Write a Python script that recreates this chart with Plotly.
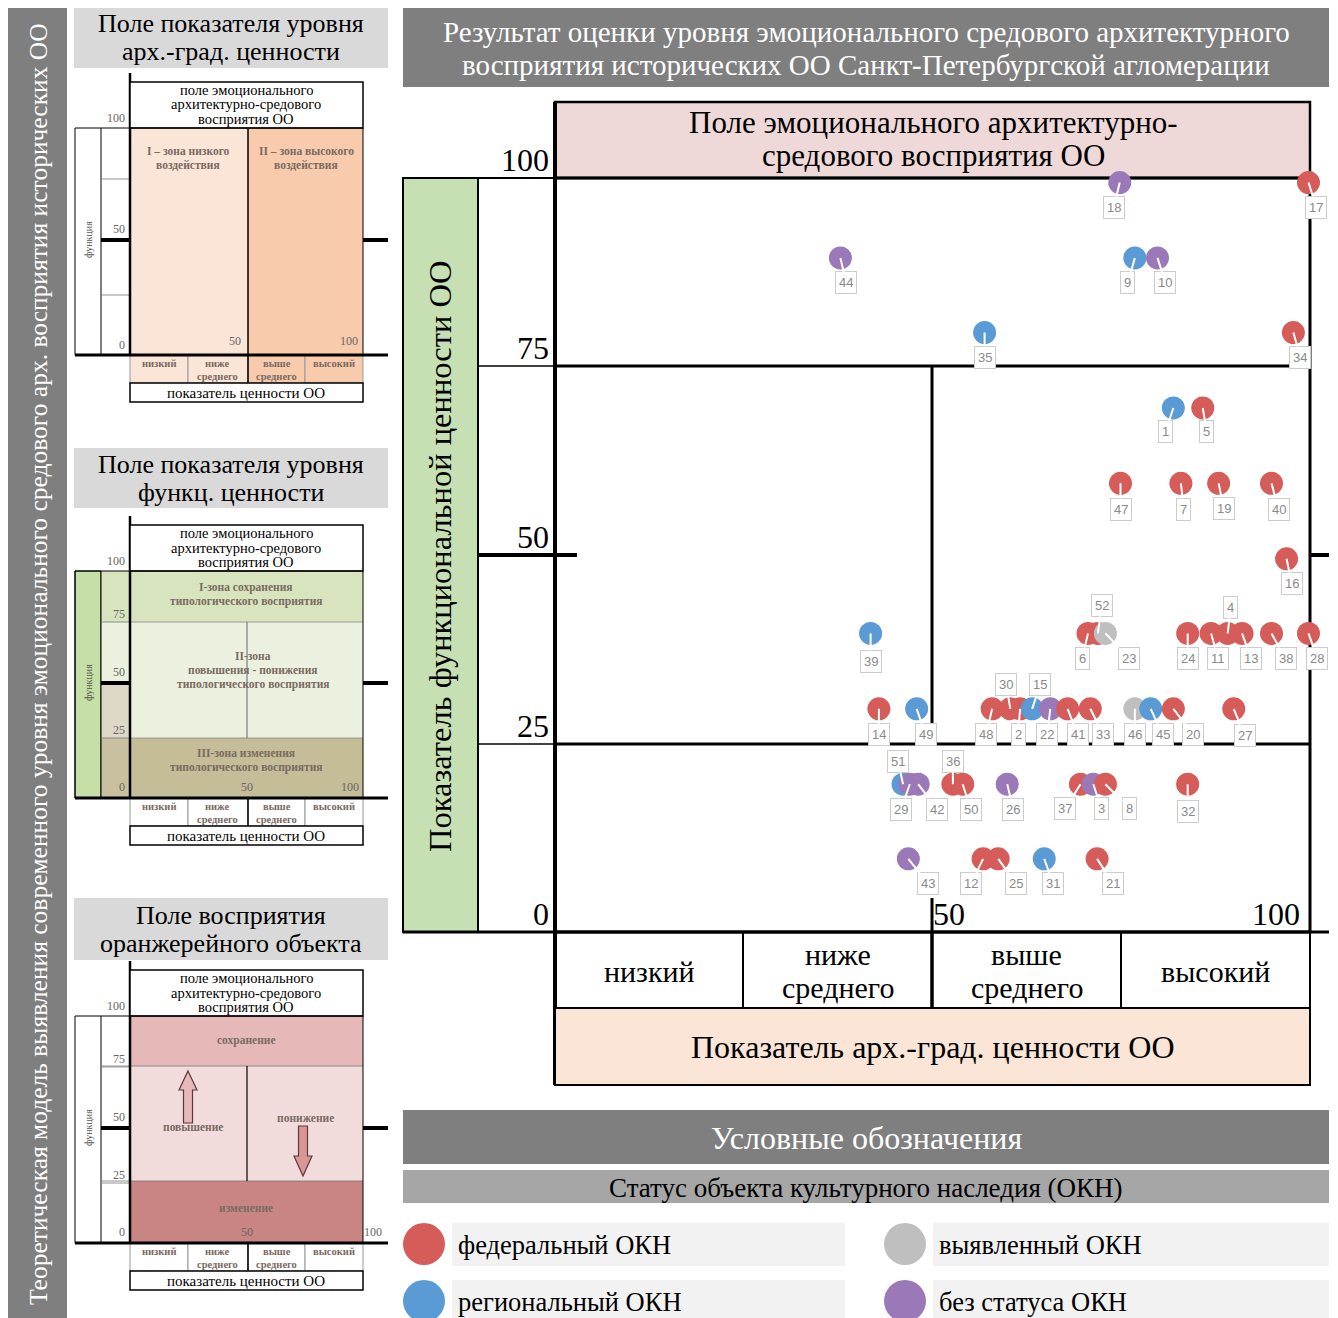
import plotly.graph_objects as go

W, H = 1338, 1318
SERIF = 'Liberation Serif'

# ---- data ----
obj_id = [17, 18, 44, 9, 10, 35, 34,
          1, 5, 47, 7, 19, 40, 16,
          6, 52, 23, 24, 11, 4, 13, 38, 28, 39,
          14, 49, 48, 30, 2, 15, 22, 41, 33, 46, 45, 20, 27,
          51, 29, 42, 36, 50, 26, 37, 3, 8, 32,
          43, 12, 25, 31, 21]
arch_value = [99.8, 74.8, 37.8, 76.8, 79.8, 56.9, 97.8,
              81.9, 85.8, 74.9, 82.9, 87.9, 94.9, 96.9,
              70.6, 71.9, 72.9, 83.8, 86.9, 89.1, 91.0, 94.9, 99.8, 41.8,
              42.9, 47.9, 57.9, 60.3, 61.6, 63.2, 65.6, 67.9, 70.9, 76.8, 78.9, 81.9, 89.9,
              46.1, 47.0, 48.1, 52.7, 54.0, 59.9, 69.6, 71.3, 72.9, 83.8,
              46.8, 56.7, 58.7, 64.8, 71.8]
func_value = [99.4, 99.4, 89.4, 89.4, 89.4, 79.5, 79.5,
              69.5, 69.5, 59.5, 59.5, 59.5, 59.5, 49.5,
              39.6, 39.6, 39.6, 39.6, 39.6, 39.6, 39.6, 39.6, 39.6, 39.6,
              29.6, 29.6, 29.6, 29.6, 29.6, 29.6, 29.6, 29.6, 29.6, 29.6, 29.6, 29.6, 29.6,
              19.6, 19.6, 19.6, 19.6, 19.6, 19.6, 19.6, 19.6, 19.6, 19.6,
              9.7, 9.7, 9.7, 9.7, 9.7]
status = ['фед', 'без', 'без', 'рег', 'без', 'рег', 'фед',
          'рег', 'фед', 'фед', 'фед', 'фед', 'фед', 'фед',
          'фед', 'фед', 'выяв', 'фед', 'фед', 'фед', 'фед', 'фед', 'фед', 'рег',
          'фед', 'рег', 'фед', 'фед', 'фед', 'рег', 'без', 'фед', 'фед', 'выяв', 'рег', 'фед', 'фед',
          'рег', 'без', 'без', 'фед', 'фед', 'без', 'фед', 'без', 'фед', 'фед',
          'без', 'фед', 'фед', 'рег', 'фед']

status_keys = ['фед', 'рег', 'выяв', 'без']
status_names = ['федеральный ОКН', 'региональный ОКН', 'выявленный ОКН', 'без статуса ОКН']
value_levels = ['низкий', 'ниже<br>среднего', 'выше<br>среднего', 'высокий']
main_y_ticks = [100, 75, 50, 25, 0]
main_x_ticks = [50, 100]

colors = {'фед': '#d65c5a', 'рег': '#5b9bd5', 'выяв': '#bfbfbf', 'без': '#9b79b9'}

# label box offsets (px) from the marker
label_offset = {17: (8, 25), 18: (-6, 25), 44: (6, 25), 9: (-7, 25), 10: (8, 25), 35: (0, 25), 34: (7, 25),
                1: (-8, 24), 5: (4, 24), 47: (0, 26), 7: (3, 26), 19: (5, 25), 40: (7, 26), 16: (5, 25),
                6: (-6, 25), 52: (4, -28), 23: (24, 25), 24: (0, 25), 11: (7, 25), 4: (3, -26), 13: (9, 25),
                38: (14, 25), 28: (9, 25), 39: (0, 28), 14: (0, 26), 49: (9, 26), 48: (-6, 26), 30: (-4, -24),
                2: (-2, 26), 15: (8, -24), 22: (-3, 26), 41: (10, 26), 33: (13, 26), 46: (0, 26), 45: (12, 26),
                20: (20, 26), 27: (11, 27), 51: (-5, -23), 29: (-9, 25), 42: (19, 25), 36: (0, -23),
                50: (8, 25), 26: (6, 25), 37: (-15, 24), 3: (8, 24), 8: (24, 24), 32: (0, 27), 43: (20, 25),
                12: (-12, 25), 25: (18, 25), 31: (9, 25), 21: (16, 25)}

shapes = []
annotations = []


def px(x):
    return x / W


def py(y):
    return 1 - y / H


def box(x0, y0, x1, y1, fill='rgba(0,0,0,0)', lc='black', lw=1.5):
    shapes.append(dict(type='rect', xref='paper', yref='paper', x0=px(x0), x1=px(x1), y0=py(y1), y1=py(y0),
                       fillcolor=fill, line=dict(color=lc, width=lw), layer='below'))


def seg(x0, y0, x1, y1, lw=1.5, color='black'):
    shapes.append(dict(type='line', xref='paper', yref='paper', x0=px(x0), x1=px(x1), y0=py(y0), y1=py(y1),
                       line=dict(color=color, width=lw), layer='below'))


def poly(pts, fill, lc='#5a3a3a'):
    d = 'M ' + ' L '.join(f'{px(x)},{py(y)}' for x, y in pts) + ' Z'
    shapes.append(dict(type='path', xref='paper', yref='paper', path=d, fillcolor=fill,
                       line=dict(color=lc, width=1.2), layer='below'))


def text(x, y, s, size, color='black', angle=0, xanchor='center', yanchor='middle', family=SERIF):
    annotations.append(dict(xref='paper', yref='paper', x=px(x), y=py(y), text=s, showarrow=False,
                            textangle=angle, xanchor=xanchor, yanchor=yanchor,
                            font=dict(family=family, size=size, color=color)))


def tlines(x, yc, s, size, spacing, **kw):
    lines = s.split('<br>')
    n = len(lines)
    for k, ln in enumerate(lines):
        text(x, yc + (k - (n - 1) / 2) * spacing, ln, size, **kw)


# ---- left column: theoretical model ----
box(8, 8, 67, 1318, fill='#7f7f7f', lw=0)
text(38, 664, 'Теоретическая модель выявления современного уровня эмоционального средового арх. восприятия исторических ОО',
     25.5, color='white', angle=-90)

headers = [(8, 68, 'Поле показателя уровня<br>арх.-град. ценности'),
           (448, 508, 'Поле показателя уровня<br>функц. ценности'),
           (898, 960, 'Поле восприятия<br>оранжерейного объекта')]
for y0, y1, s in headers:
    box(74, y0, 388, y1, fill='#d9d9d9', lw=0)
    tlines(231, (y0 + y1) / 2, s, 26, 28)

ZT = '#7a6a62'  # zone text colour


def ztext(x, yc, s):
    tlines(x, yc, '<br>'.join('<b>' + p + '</b>' for p in s.split('<br>')), 11.5, 14, color=ZT)


def mini(dy, kind):
    Y = lambda v: v + dy
    # left columns
    if kind == 'func':
        box(75, Y(128), 101, Y(355), fill='#c5dfa6', lw=1)
        box(101, Y(128), 130, Y(179), fill='#d7e4bd', lw=0)
        box(101, Y(179), 130, Y(240), fill='#ebf1de', lw=0)
        box(101, Y(240), 130, Y(295), fill='#ddd7c6', lw=0)
        box(101, Y(295), 130, Y(355), fill='#c9c09f', lw=0)
    box(75, Y(128), 130, Y(355), lw=1)
    seg(101, Y(128), 101, Y(355), lw=1)
    seg(101, Y(179), 130, Y(179), lw=0.8, color='#777')
    seg(101, Y(295), 130, Y(295), lw=0.8, color='#777')
    text(88, Y(240), 'функция', 10, color='#555', angle=-90)
    # zones
    if kind == 'arch':
        box(130, Y(128), 248, Y(355), fill='#fbe5d6', lw=0)
        box(248, Y(128), 363, Y(355), fill='#f8cbad', lw=0)
        seg(248, Y(128), 248, Y(355), lw=1.5)
        ztext(188, Y(158), 'I – зона низкого<br>воздействия')
        ztext(306, Y(158), 'II – зона высокого<br>воздействия')
        cells = ['#fbe5d6', '#fbe5d6', '#f8cbad', '#f8cbad']
        text(243, Y(341), '50', 12, color='#666', xanchor='right')
        text(360, Y(341), '100', 12, color='#666', xanchor='right')
        ticks = [('100', 118), ('50', 229), ('0', 345)]
    elif kind == 'func':
        box(130, Y(128), 363, Y(179), fill='#d7e4bd', lw=0)
        box(130, Y(179), 363, Y(295), fill='#ebf1de', lw=0)
        box(130, Y(295), 363, Y(355), fill='#c4bd97', lw=0)
        seg(130, Y(179), 363, Y(179), lw=0.8, color='#888')
        seg(130, Y(295), 363, Y(295), lw=0.8, color='#888')
        seg(247, Y(179), 247, Y(295), lw=1, color='#666')
        ztext(246, Y(152), 'I-зона сохранения<br>типологического восприятия')
        ztext(253, Y(227), 'II-зона<br>повышения - понижения<br>типологического восприятия')
        ztext(246, Y(317), 'III-зона изменения<br>типологического восприятия')
        cells = ['white'] * 4
        text(247, Y(344), '50', 12, color='#666')
        text(361, Y(344), '100', 12, color='#666', xanchor='right')
        ticks = [('100', 118), ('75', 171), ('50', 229), ('25', 287), ('0', 344)]
    else:
        box(130, Y(128), 363, Y(178), fill='#e6b9b8', lw=0)
        box(130, Y(178), 363, Y(293), fill='#f2dcdb', lw=0)
        box(130, Y(293), 363, Y(355), fill='#c98583', lw=0)
        seg(101, Y(178), 363, Y(178), lw=0.8, color='#777')
        seg(101, Y(293), 363, Y(293), lw=0.8, color='#777')
        seg(247, Y(178), 247, Y(293), lw=1.2)
        ztext(246, Y(152), 'сохранение')
        ztext(193, Y(239), 'повышение')
        ztext(305, Y(230), 'понижение')
        ztext(246, Y(320), 'изменение')
        poly([(188, Y(183)), (197, Y(202)), (192.5, Y(202)), (192.5, Y(235)),
              (183.5, Y(235)), (183.5, Y(202)), (179, Y(202))], '#e6b9b8')
        poly([(298.5, Y(238)), (307.5, Y(238)), (307.5, Y(268)), (312, Y(268)),
              (303, Y(288)), (294, Y(268)), (298.5, Y(268))], '#d99694')
        cells = ['white'] * 4
        text(247, Y(344), '50', 12, color='#666')
        text(384, Y(344), '100', 12, color='#666', xanchor='right')
        ticks = [('100', 118), ('75', 171), ('50', 229), ('25', 287), ('0', 344)]
    for s, ty in ticks:
        text(127, Y(ty), s, 12, color='#666', xanchor='right')
    # axis lines
    seg(130, Y(73), 130, Y(355), lw=2.5)
    box(130, Y(82), 363, Y(128), fill='white', lw=1.5)
    tlines(246, Y(104.5), 'поле эмоционального<br>архитектурно-средового<br>восприятия ОО', 14.5, 14.5)
    box(130, Y(128), 363, Y(355), lw=1)
    seg(101, Y(240), 130, Y(240), lw=4)
    seg(363, Y(240), 388, Y(240), lw=4)
    # value level row
    edges = [130, 188, 248, 305, 363]
    for i in range(4):
        box(edges[i], Y(355), edges[i + 1], Y(383), fill=cells[i], lc='#999', lw=1)
        lv = value_levels[i].split('<br>')
        yc = Y(363) if len(lv) == 1 else Y(370)
        tlines((edges[i] + edges[i + 1]) / 2, yc,
               '<br>'.join('<b>' + p + '</b>' for p in lv), 10.5, 13.5, color=ZT)
    seg(248, Y(355), 248, Y(383), lw=1.5)
    box(130, Y(383), 363, Y(402), fill='white', lw=1.5)
    text(246, Y(393), 'показатель ценности ОО', 15)
    seg(75, Y(355), 388, Y(355), lw=3)


mini(0, 'arch')
mini(443, 'func')
mini(888, 'green')

# ---- main chart frame ----
box(403, 8, 1329, 87, fill='#7f7f7f', lw=0)
tlines(866, 48, 'Результат оценки уровня эмоционального средового архитектурного<br>восприятия исторических ОО Санкт-Петербургской агломерации',
       29, 33, color='white')
box(555, 102, 1310, 178, fill='#eed9d8', lw=2.5)
tlines(933, 139, 'Поле эмоционального архитектурно-<br>средового восприятия ОО', 31, 33.5)
box(403, 178, 478, 932, fill='#c6e0b4', lw=2)
text(440, 557, 'Показатель функциональной ценности ОО', 32.5, angle=-90)
box(478, 178, 555, 932, lw=2)
seg(478, 366, 555, 366, lw=1.5)
seg(478, 744, 555, 744, lw=1.5)
box(555, 178, 1310, 932, lw=3)
seg(555, 366, 1310, 366, lw=3)
seg(555, 744, 1310, 744, lw=3)
seg(932, 366, 932, 744, lw=3)
seg(932, 898, 932, 1008, lw=3)
seg(478, 555, 577, 555, lw=4)
seg(1310, 555, 1329, 555, lw=4)
seg(555, 102, 555, 1085, lw=4)
seg(403, 932, 1329, 932, lw=3)

cat_edges = [555, 743, 932, 1121, 1310]
box(555, 932, 1310, 1008, lw=2)
for i in range(4):
    if i > 0:
        seg(cat_edges[i], 932, cat_edges[i], 1008, lw=3 if i == 2 else 2)
    tlines((cat_edges[i] + cat_edges[i + 1]) / 2, 971, value_levels[i], 30, 33)
box(555, 1008, 1310, 1085, fill='#fbe5d6', lw=2)
text(933, 1047, 'Показатель арх.-град. ценности ОО', 32)

# ---- legend ----
box(403, 1110, 1329, 1164, fill='#7f7f7f', lw=0)
text(866, 1138, 'Условные обозначения', 32, color='white')
box(403, 1170, 1329, 1203, fill='#a6a6a6', lw=0)
text(866, 1188, 'Статус объекта культурного наследия (ОКН)', 27)
leg_pos = [(403, 1223), (403, 1280), (884, 1223), (884, 1280)]
for (lx, ly), key, name in zip(leg_pos, status_keys, status_names):
    shapes.append(dict(type='circle', xref='paper', yref='paper', x0=px(lx), x1=px(lx + 42),
                       y0=py(ly + 42), y1=py(ly), fillcolor=colors[key], line=dict(width=0), layer='below'))
    box(lx + 49, ly, lx + (442 if lx < 800 else 445), ly + 43, fill='#f2f2f2', lw=0)
    text(lx + 53, ly + 22, name, 26.5, xanchor='left')

# ---- scatter ----
fig = go.Figure()
fig.add_trace(go.Scatter(
    x=arch_value, y=func_value, mode='markers',
    marker=dict(size=23, color=[colors[s] for s in status], line=dict(width=0)),
    text=[str(i) for i in obj_id], hoverinfo='text', cliponaxis=False, showlegend=False))

for i, xv, yv in zip(obj_id, arch_value, func_value):
    dx, dy = label_offset.get(i, (0, 25))
    annotations.append(dict(xref='x', yref='y', x=xv, y=yv, ax=dx, ay=dy, text=str(i),
                            showarrow=True, arrowhead=0, arrowwidth=2, arrowcolor='white',
                            standoff=0, bgcolor='white', bordercolor='#cccccc', borderwidth=1, borderpad=3,
                            font=dict(family='Liberation Sans', size=13, color='#8a8a8a')))

for t in main_y_ticks:
    annotations.append(dict(xref='x', yref='y', x=0, y=t, text=str(t), showarrow=False,
                            xanchor='right', yanchor='bottom', xshift=-4, yshift=-2,
                            font=dict(family=SERIF, size=32, color='black')))
for t in main_x_ticks:
    annotations.append(dict(xref='x', yref='y', x=t, y=0, text=str(t), showarrow=False,
                            xanchor='left' if t < 100 else 'right', xshift=-2 if t < 100 else -8,
                            yanchor='bottom', yshift=-2,
                            font=dict(family=SERIF, size=32, color='black')))

fig.update_layout(
    width=W, height=H, autosize=False,
    margin=dict(l=0, r=0, t=0, b=0),
    paper_bgcolor='white', plot_bgcolor='rgba(0,0,0,0)',
    shapes=shapes, annotations=annotations, showlegend=False,
    xaxis=dict(domain=[px(555), px(1310)], range=[0, 100], visible=False, fixedrange=True),
    yaxis=dict(domain=[py(932), py(178)], range=[0, 100], visible=False, fixedrange=True),
)

fig.write_html('out.html', config={'displayModeBar': False},
               post_script="document.body.style.margin='0px';")
